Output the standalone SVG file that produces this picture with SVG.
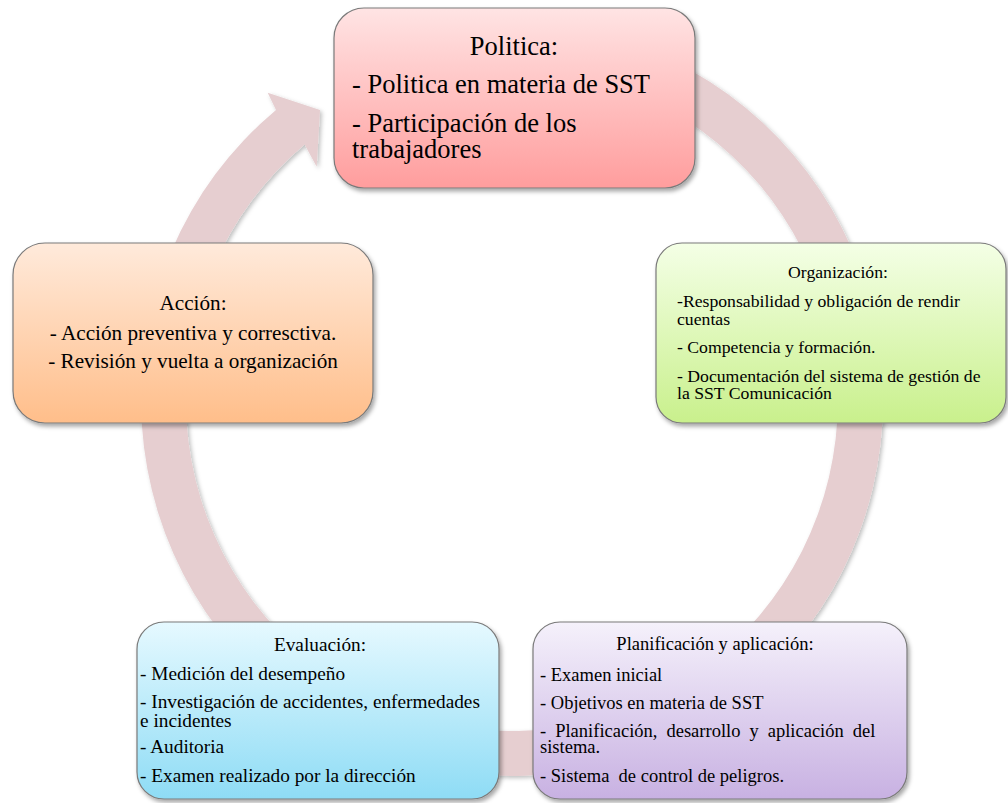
<svg xmlns="http://www.w3.org/2000/svg" width="1008" height="803" viewBox="0 0 1008 803">
<style>
  .node { stroke: #7a7a7a; stroke-width: 1.2; filter: url(#shadow); }
  .t { font-family: "Liberation Serif", "Times New Roman", serif; fill: #000; }
  .c { text-anchor: middle; }
  .pre { white-space: pre; }
  .f-top { font-size: 26.5px; }
  .f-org { font-size: 17.7px; }
  .f-plan { font-size: 18.5px; }
  .f-eval { font-size: 19.3px; }
  .f-acc { font-size: 21.2px; }
</style>
<defs>
  <filter id="shadow" x="-10%" y="-10%" width="125%" height="130%">
    <feDropShadow dx="2" dy="3" stdDeviation="2.2" flood-color="#000" flood-opacity="0.35"/>
  </filter>
  <filter id="rshadow" x="-10%" y="-10%" width="125%" height="125%">
    <feDropShadow dx="2" dy="2" stdDeviation="2" flood-color="#000" flood-opacity="0.25"/>
  </filter>
  <linearGradient id="gRed" x1="0" y1="0" x2="0" y2="1">
    <stop offset="0" stop-color="#FFE4E4"/>
    <stop offset="1" stop-color="#FF9D9D"/>
  </linearGradient>
  <linearGradient id="gGreen" x1="0" y1="0" x2="0" y2="1">
    <stop offset="0" stop-color="#F4FFE6"/>
    <stop offset="1" stop-color="#C9F08C"/>
  </linearGradient>
  <linearGradient id="gPurple" x1="0" y1="0" x2="0" y2="1">
    <stop offset="0" stop-color="#F5F1FB"/>
    <stop offset="1" stop-color="#C8B1E2"/>
  </linearGradient>
  <linearGradient id="gBlue" x1="0" y1="0" x2="0" y2="1">
    <stop offset="0" stop-color="#E6F9FF"/>
    <stop offset="1" stop-color="#8EDCF5"/>
  </linearGradient>
  <linearGradient id="gOrange" x1="0" y1="0" x2="0" y2="1">
    <stop offset="0" stop-color="#FFEADB"/>
    <stop offset="1" stop-color="#FFBE8A"/>
  </linearGradient>
</defs>
<rect width="1008" height="803" fill="#FFFFFF"/>

<g id="connectors">
  <path d="M 479.7 25.4 A 371 376 0 1 1 276.0 109.9 L 267.7 92.7 L 320 110 L 316.7 166.7 L 304.6 144.6 A 326 331 0 1 0 483.6 70.3 Z" fill="#E6CED0" filter="url(#rshadow)"/>
</g>

<g id="node-politica">
  <rect class="node" x="334" y="8" width="361" height="180" rx="30" fill="url(#gRed)"/>
  <text class="t c f-top" x="514" y="55">Politica:</text>
  <text class="t f-top" x="352" y="93">- Politica en materia de SST</text>
  <text class="t f-top" x="352" y="132">- Participación de los</text>
  <text class="t f-top" x="352" y="158">trabajadores</text>
</g>

<g id="node-organizacion">
  <rect class="node" x="656" y="243" width="350" height="180" rx="26" fill="url(#gGreen)"/>
  <text class="t c f-org" x="838" y="278">Organización:</text>
  <text class="t f-org" x="677" y="307">-Responsabilidad y obligación de rendir</text>
  <text class="t f-org" x="677" y="325">cuentas</text>
  <text class="t f-org" x="677" y="353">- Competencia y formación.</text>
  <text class="t f-org" x="677" y="382">- Documentación del sistema de gestión de</text>
  <text class="t f-org" x="677" y="399">la SST Comunicación</text>
</g>

<g id="node-planificacion">
  <rect class="node" x="533" y="622" width="374" height="177" rx="27" fill="url(#gPurple)"/>
  <text class="t c f-plan" x="715" y="650">Planificación y aplicación:</text>
  <text class="t f-plan" x="540" y="681">- Examen inicial</text>
  <text class="t f-plan" x="540" y="709">- Objetivos en materia de SST</text>
  <text class="t f-plan" x="540" y="737" word-spacing="4.4">- Planificación, desarrollo y aplicación del</text>
  <text class="t f-plan" x="540" y="753">sistema.</text>
  <text class="t pre f-plan" x="540" y="782">- Sistema  de control de peligros.</text>
</g>

<g id="node-evaluacion">
  <rect class="node" x="137" y="622" width="362" height="177" rx="27" fill="url(#gBlue)"/>
  <text class="t c f-eval" x="320" y="651">Evaluación:</text>
  <text class="t f-eval" x="140" y="680">- Medición del desempeño</text>
  <text class="t f-eval" x="140" y="708">- Investigación de accidentes, enfermedades</text>
  <text class="t f-eval" x="140" y="727">e incidentes</text>
  <text class="t f-eval" x="140" y="753">- Auditoria</text>
  <text class="t f-eval" x="140" y="782">- Examen realizado por la dirección</text>
</g>

<g id="node-accion">
  <rect class="node" x="13" y="243" width="360" height="180" rx="32" fill="url(#gOrange)"/>
  <text class="t c f-acc" x="193" y="310">Acción:</text>
  <text class="t c f-acc" x="193" y="340">- Acción preventiva y corresctiva.</text>
  <text class="t c f-acc" x="193" y="368">- Revisión y vuelta a organización</text>
</g>
</svg>
